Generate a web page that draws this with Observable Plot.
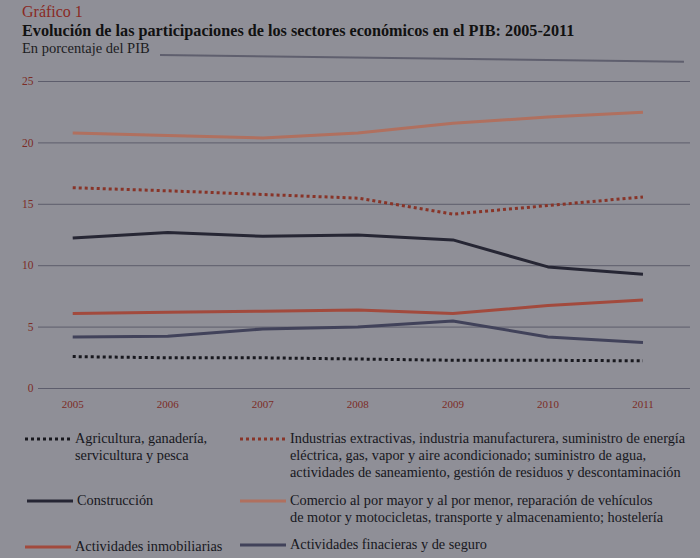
<!DOCTYPE html>
<html>
<head>
<meta charset="utf-8">
<script src="https://cdn.jsdelivr.net/npm/d3@7"></script>
<script src="https://cdn.jsdelivr.net/npm/@observablehq/plot@0.6"></script>
<style>
  html, body { margin: 0; padding: 0; }
  body { width: 700px; height: 558px; overflow: hidden; background: #8f8f97; font-family: "Liberation Serif", "DejaVu Serif", serif; position: relative; }
  .abs { position: absolute; white-space: nowrap; }
  #kicker { left: 22px; top: 3px; font-size: 16px; color: #8a2a24; }
  #title { left: 22px; top: 22px; font-size: 16.2px; font-weight: bold; color: #111; }
  #subtitle { left: 22px; top: 40px; font-size: 14.5px; color: #1c1c22; }
  #rule { left: 160px; top: 54px; width: 524px; height: 2px; background: #5f5f6e; transform: rotate(0.75deg); transform-origin: left center; }
  #chart { position: absolute; left: 0; top: 60px; }
  .leg { position: absolute; font-size: 14.3px; line-height: 17px; color: #17171d; white-space: nowrap; }
  .sw { position: absolute; }
</style>
</head>
<body>
<div id="kicker" class="abs">Gráfico 1</div>
<div id="title" class="abs">Evolución de las participaciones de los sectores económicos en el PIB: 2005-2011</div>
<div id="subtitle" class="abs">En porcentaje del PIB</div>
<div id="rule" class="abs"></div>
<div id="chart"></div>
<div id="legend"></div>
<script>
const years = [2005, 2006, 2007, 2008, 2009, 2010, 2011];
const agricultura   = [2.6, 2.5, 2.5, 2.4, 2.3, 2.3, 2.25];
const industrias    = [16.35, 16.1, 15.8, 15.5, 14.2, 14.9, 15.6];
const construccion  = [12.25, 12.7, 12.4, 12.5, 12.1, 9.9, 9.3];
const comercio      = [20.8, 20.6, 20.4, 20.8, 21.6, 22.1, 22.5];
const inmobiliarias = [6.1, 6.2, 6.3, 6.4, 6.1, 6.75, 7.2];
const financieras   = [4.2, 4.25, 4.85, 5.0, 5.5, 4.2, 3.75];
const yTicks = [0, 5, 10, 15, 20, 25];

const series = [
  {key: "agricultura", name: "Agricultura, ganadería, servicultura y pesca", values: agricultura, color: "#18181e", dash: "3,3"},
  {key: "industrias", name: "Industrias extractivas, industria manufacturera, suministro de energía eléctrica, gas, vapor y aire acondicionado; suministro de agua, actividades de saneamiento, gestión de residuos y descontaminación", values: industrias, color: "#883428", dash: "3,3"},
  {key: "construccion", name: "Construcción", values: construccion, color: "#262634", dash: null},
  {key: "comercio", name: "Comercio al por mayor y al por menor, reparación de vehículos de motor y motocicletas, transporte y almacenamiento; hostelería", values: comercio, color: "#b0705f", dash: null},
  {key: "inmobiliarias", name: "Actividades inmobiliarias", values: inmobiliarias, color: "#a24a3d", dash: null},
  {key: "financieras", name: "Actividades finacieras y de seguro", values: financieras, color: "#41425a", dash: null}
];

const rows = series.flatMap(s => years.map((y, i) => ({serie: s.key, year: y, value: s.values[i]})));

const marks = [
  Plot.gridY(yTicks, {stroke: "#5d5d6c", strokeOpacity: 1, strokeWidth: 1}),
  Plot.axisY(yTicks, {tickSize: 0, tickPadding: 5, fill: "#7c2c26", fontSize: 11.5, label: null}),
  Plot.axisX(years, {tickSize: 0, tickPadding: 12, fill: "#7c2c26", fontSize: 11, label: null, tickFormat: d => String(d)})
];
for (const s of series) {
  marks.push(Plot.line(rows.filter(r => r.serie === s.key), {
    x: "year", y: "value", stroke: s.color, strokeWidth: 3,
    strokeDasharray: s.dash || undefined, strokeLinecap: "butt", strokeLinejoin: "round"
  }));
}

const chart = Plot.plot({
  width: 700,
  height: 360,
  marginLeft: 38,
  marginRight: 10,
  marginTop: 21,
  marginBottom: 32,
  style: {background: "transparent", fontFamily: "Liberation Serif, DejaVu Serif, serif", fontSize: "11px"},
  x: {type: "linear", domain: [2004.64, 2011.5]},
  y: {domain: [0, 25]},
  marks
});
document.getElementById("chart").appendChild(chart);

// Legend
const legendItems = [
  {s: series[0], x: 25, top: 430, lines: ["Agricultura, ganadería,", "servicultura y pesca"]},
  {s: series[1], x: 240, top: 430, lines: ["Industrias extractivas, industria manufacturera, suministro de energía", "eléctrica, gas, vapor y aire acondicionado; suministro de agua,", "actividades de saneamiento, gestión de residuos y descontaminación"]},
  {s: series[2], x: 27, top: 492, lines: ["Construcción"]},
  {s: series[3], x: 240, top: 492, lines: ["Comercio al por mayor y al por menor, reparación de vehículos", "de motor y motocicletas, transporte y almacenamiento; hostelería"]},
  {s: series[4], x: 25, top: 538, lines: ["Actividades inmobiliarias"]},
  {s: series[5], x: 240, top: 536, lines: ["Actividades finacieras y de seguro"]}
];
const legend = document.getElementById("legend");
for (const it of legendItems) {
  const sw = document.createElementNS("http://www.w3.org/2000/svg", "svg");
  sw.setAttribute("class", "sw");
  sw.setAttribute("width", 46);
  sw.setAttribute("height", 6);
  sw.style.left = it.x + "px";
  sw.style.top = (it.top + 6) + "px";
  const ln = document.createElementNS("http://www.w3.org/2000/svg", "line");
  ln.setAttribute("x1", 0); ln.setAttribute("x2", 46);
  ln.setAttribute("y1", 3); ln.setAttribute("y2", 3);
  ln.setAttribute("stroke", it.s.color);
  ln.setAttribute("stroke-width", 3);
  if (it.s.dash) ln.setAttribute("stroke-dasharray", it.s.dash);
  sw.appendChild(ln);
  legend.appendChild(sw);
  const tx = document.createElement("div");
  tx.className = "leg";
  tx.style.left = (it.x + 50) + "px";
  tx.style.top = it.top + "px";
  tx.innerHTML = it.lines.join("<br>");
  legend.appendChild(tx);
}
</script>
</body>
</html>
